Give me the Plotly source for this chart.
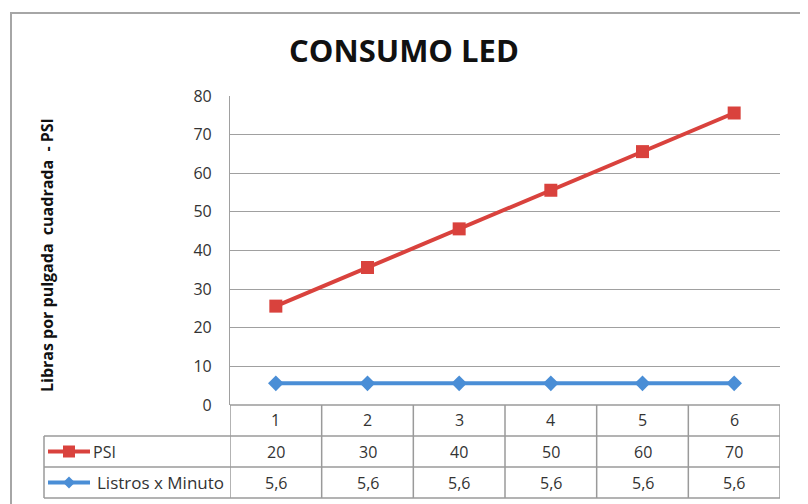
import plotly.graph_objects as go

categories = [1, 2, 3, 4, 5, 6]
psi = [20, 30, 40, 50, 60, 70]
listros = [5.6, 5.6, 5.6, 5.6, 5.6, 5.6]
y_ticks = [0, 10, 20, 30, 40, 50, 60, 70, 80]
series_names = ["PSI", "Listros x Minuto"]
title_text = "CONSUMO LED"
y_title = "Libras por pulgada\u00a0 cuadrada\u00a0 - PSI"

RED = "#D9423D"
BLUE = "#4A8ED6"
GRID = "#A0A0A0"
TBL = "#9A9A9A"
TXT = "#333333"
FONT = "Open Sans"

W, H = 808, 504
OFF = 8  # page body margin
# plot area in screen pixels: x 230..780, y 96..405
SX0, SX1, SY0, SY1 = 230, 780, 96, 405
L = SX0 - OFF
R = W - (SX1 - OFF)
T = SY0 - OFF
B = H - (SY1 - OFF)
pw = SX1 - SX0
ph = SY1 - SY0


def py(p):
    return (SY1 - p) / ph


def px(p):
    return (p - SX0) / pw


fig = go.Figure()
fig.add_trace(go.Scatter(
    x=categories, y=listros, name=series_names[1], stackgroup="s", fill="none",
    mode="lines+markers", line=dict(color=BLUE, width=4),
    marker=dict(symbol="diamond", size=12, color=BLUE)))
fig.add_trace(go.Scatter(
    x=categories, y=psi, name=series_names[0], stackgroup="s", fill="none",
    mode="lines+markers", line=dict(color=RED, width=4),
    marker=dict(symbol="square", size=13, color=RED)))

shapes = []
# outer border
shapes.append(dict(type="rect", xref="paper", yref="paper", x0=px(11), x1=px(801),
                   y0=py(520), y1=py(13), line=dict(color="#A6A6A6", width=2)))
# table horizontal lines
shapes.append(dict(type="line", xref="paper", yref="paper", x0=0, x1=1, y0=0, y1=0,
                   line=dict(color=TBL, width=1.5)))
for yy in (436, 467, 498):
    shapes.append(dict(type="line", xref="paper", yref="paper", x0=px(44), x1=1,
                       y0=py(yy), y1=py(yy), line=dict(color=TBL, width=1.5)))
# table vertical lines
shapes.append(dict(type="line", xref="paper", yref="paper", x0=px(44), x1=px(44),
                   y0=py(436), y1=py(498), line=dict(color=TBL, width=1.5)))
for k in range(len(categories) + 1):
    xv = categories[0] - 0.5 + k
    shapes.append(dict(type="line", xref="x", yref="paper", x0=xv, x1=xv,
                       y0=0, y1=py(498), line=dict(color=TBL, width=1.5)))
# legend keys
shapes.append(dict(type="line", xref="paper", yref="paper", x0=px(48), x1=px(90),
                   y0=py(451.5), y1=py(451.5), line=dict(color=RED, width=4)))
shapes.append(dict(type="rect", xref="paper", yref="paper", x0=px(63), x1=px(75),
                   y0=py(457.5), y1=py(445.5), line=dict(width=0), fillcolor=RED))
shapes.append(dict(type="line", xref="paper", yref="paper", x0=px(48), x1=px(90),
                   y0=py(482.5), y1=py(482.5), line=dict(color=BLUE, width=4)))
cx, cy, d = 69, 482.5, 6
shapes.append(dict(type="path", xref="paper", yref="paper",
                   path=f"M {px(cx-d)} {py(cy)} L {px(cx)} {py(cy-d)} L {px(cx+d)} {py(cy)} L {px(cx)} {py(cy+d)} Z",
                   line=dict(width=0), fillcolor=BLUE))

ann = []
for c, p, l in zip(categories, psi, listros):
    ann.append(dict(x=c, y=py(420.5), xref="x", yref="paper", text=str(c), showarrow=False,
                    font=dict(family=FONT, size=16, color=TXT), yanchor="middle"))
    ann.append(dict(x=c, y=py(451.5), xref="x", yref="paper", text=str(p), showarrow=False,
                    font=dict(family=FONT, size=16, color=TXT), yanchor="middle"))
    ann.append(dict(x=c, y=py(482.5), xref="x", yref="paper", text=f"{l:.1f}".replace(".", ","),
                    showarrow=False, font=dict(family=FONT, size=16, color=TXT), yanchor="middle"))
ann.append(dict(x=px(91), y=py(451.5), xref="paper", yref="paper", text=series_names[0],
                showarrow=False, xanchor="left", yanchor="middle",
                font=dict(family=FONT, size=16, color=TXT)))
ann.append(dict(x=px(95), y=py(482.5), xref="paper", yref="paper", text=series_names[1],
                showarrow=False, xanchor="left", yanchor="middle",
                font=dict(family=FONT, size=17, color=TXT)))
ann.append(dict(x=px(47), y=py(255), xref="paper", yref="paper", text=y_title, textangle=-90,
                showarrow=False, xanchor="center", yanchor="middle",
                font=dict(family=FONT, size=16, color="#111111", weight="bold")))
ann.append(dict(x=px(404), y=py(50), xref="paper", yref="paper", text=title_text,
                showarrow=False, xanchor="center", yanchor="middle",
                font=dict(family=FONT, size=31, color="#111111", weight="bold")))

fig.update_layout(
    width=W, height=H,
    margin=dict(l=L, r=R, t=T, b=B, pad=0),
    paper_bgcolor="white", plot_bgcolor="white",
    showlegend=False,
    shapes=shapes, annotations=ann,
    xaxis=dict(range=[categories[0] - 0.5, categories[-1] + 0.5], showticklabels=False,
               showgrid=False, zeroline=False, showline=False, fixedrange=True),
    yaxis=dict(range=[y_ticks[0], y_ticks[-1]], tickvals=y_ticks, showgrid=True,
               gridcolor=GRID, gridwidth=1.2, zeroline=False, showline=True,
               linecolor=GRID, linewidth=1.2, ticks="", ticklabelstandoff=14,
               tickfont=dict(family=FONT, size=16, color=TXT)),
)

fig.write_html("out.html")
